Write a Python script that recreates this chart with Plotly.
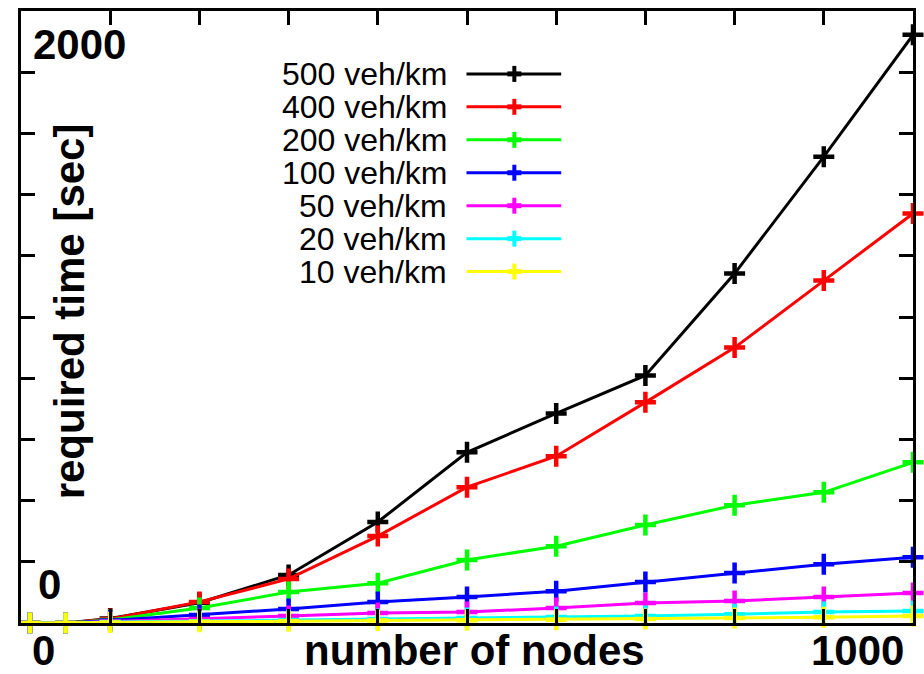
import plotly.graph_objects as go

# ---- data ----
nodes = [10, 50, 100, 200, 300, 400, 500, 600, 700, 800, 900, 1000]
series_names = ["500 veh/km", "400 veh/km", "200 veh/km", "100 veh/km",
                "50 veh/km", "20 veh/km", "10 veh/km"]
t500 = [0, 0, 15, 66, 157, 330, 558, 685, 809, 1142, 1524, 1922]
t400 = [0, 0, 13, 69, 144, 284, 444, 545, 721, 900, 1119, 1338]
t200 = [0, 0, 10, 49, 101, 130, 206, 251, 320, 385, 427, 525]
t100 = [0, 0, 8, 26, 46, 69, 85, 104, 134, 163, 192, 215]
t50 = [0, 0, 5, 13, 23, 33, 36, 49, 65, 72, 85, 98]
t20 = [0, 0, 3, 6, 10, 13, 16, 20, 23, 29, 36, 39]
t10 = [0, 0, 2, 4, 6, 8, 9, 11, 13, 16, 19, 23]
series_values = [t500, t400, t200, t100, t50, t20, t10]
colors = ["#000000", "#ff0000", "#00ff00", "#0000ff", "#ff00ff", "#00ffff", "#ffff00"]

x_tick_labels = ["0", "1000"]
y_tick_labels = ["0", "2000"]
x_title = "number of nodes"
y_title = "required time [sec]"

# ---- geometry helpers (pixel -> paper) ----
W, H = 924, 674
L, R, T, B = 21, 916, 10, 623


def px(x):
    return (x - L) / (R - L)


def py(y):
    return (B - y) / (B - T)


FONT = "Liberation Sans, Arial, Helvetica, sans-serif"

fig = go.Figure()
for name, vals, col in zip(series_names, series_values, colors):
    fig.add_trace(go.Scatter(
        x=nodes, y=vals, name=name, mode="lines+markers",
        line=dict(color=col, width=3),
        marker=dict(symbol="cross-thin", size=15, color=col,
                    line=dict(color=col, width=4.5)),
        cliponaxis=False, showlegend=False,
    ))

axis_common = dict(
    showgrid=False, zeroline=False, showline=True, linewidth=3, linecolor="black",
    mirror="allticks", ticks="inside", ticklen=14, tickwidth=3, tickcolor="black",
    showticklabels=False,
)

fig.update_layout(
    width=W, height=H,
    margin=dict(l=L, r=W - R, t=T, b=H - B, pad=0),
    paper_bgcolor="white", plot_bgcolor="white",
    font=dict(family=FONT, color="black"),
    xaxis=dict(range=[0, 1000], dtick=100, tick0=0, **axis_common),
    yaxis=dict(range=[0, 2000], dtick=200, tick0=0, **axis_common),
)

bold = dict(family=FONT, size=42, color="black", weight="bold")
annos = [
    dict(text=x_tick_labels[0], x=px(44), y=py(651)),
    dict(text=x_tick_labels[1], x=px(860), y=py(651)),
    dict(text=y_tick_labels[0], x=px(50), y=py(584)),
    dict(text=y_tick_labels[1], x=px(80), y=py(44)),
    dict(text=x_title, x=px(476), y=py(651)),
    dict(text=y_title, x=px(70), y=py(311), textangle=-90),
]
for a in annos:
    fig.add_annotation(xref="paper", yref="paper", showarrow=False,
                       xanchor="center", yanchor="middle", font=bold,
                       borderpad=0, **a)

# ---- legend drawn gnuplot-style (text right-aligned, sample on the right) ----
for i, (name, col) in enumerate(zip(series_names, colors)):
    ry = 73 + 33 * i
    fig.add_annotation(xref="paper", yref="paper", showarrow=False,
                       x=px(449), y=py(ry), xanchor="right", yanchor="middle",
                       borderpad=0,
                       text=name, font=dict(family=FONT, size=32, color="black"))
    fig.add_shape(type="line", xref="paper", yref="paper",
                  x0=px(468), x1=px(563), y0=py(ry), y1=py(ry),
                  line=dict(color=col, width=3))
    fig.add_shape(type="line", xref="paper", yref="paper",
                  x0=px(516), x1=px(516), y0=py(ry - 8), y1=py(ry + 8),
                  line=dict(color=col, width=4))
    fig.add_shape(type="line", xref="paper", yref="paper",
                  x0=px(509), x1=px(523), y0=py(ry), y1=py(ry),
                  line=dict(color=col, width=5))

fig.write_html("out.html",
               config={"displayModeBar": False},
               post_script="document.body.style.margin='0';document.body.style.overflow='hidden';")
